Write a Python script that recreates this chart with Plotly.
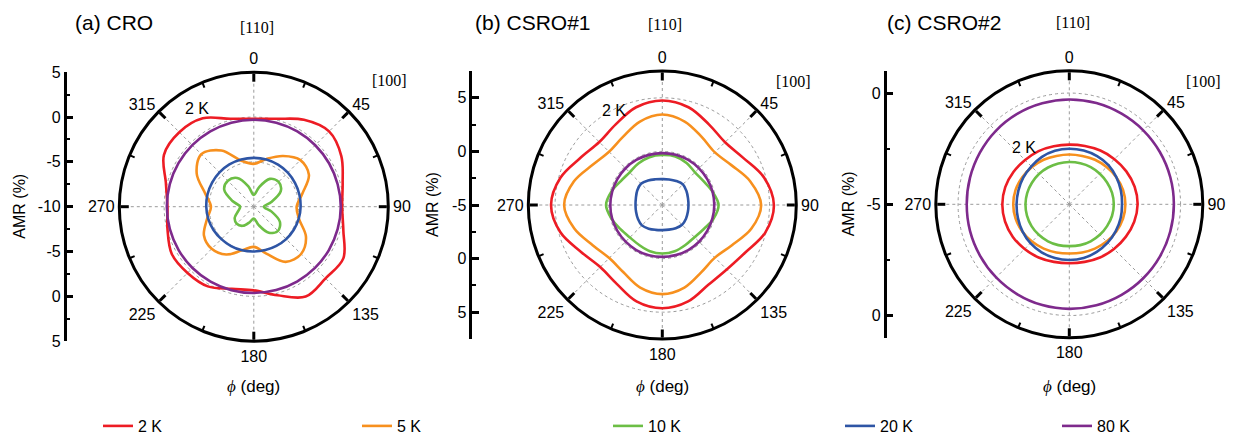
import plotly.graph_objects as go

W, H = 1235, 435

# ---------------- data ----------------
PHI = [0, 15, 30, 45, 60, 75, 90, 105, 120, 135, 150, 165,
       180, 195, 210, 225, 240, 255, 270, 285, 300, 315, 330, 345]
TEMPS = ["2 K", "5 K", "10 K", "20 K", "80 K"]
COLORS = ["#ED1C24", "#F7901E", "#6CBE45", "#2E55A5", "#7E2A8C"]

# (a) CRO  (AMR %, radial axis -10 .. 5)
CRO_2K = [-0.19, 0.15, 1.19, 1.87, 1.27, 0.26, -0.15, 0.34, 1.53, 1.31, 1.57, 0.22,
          -0.67, -0.52, 0.26, 0.45, 0.56, -0.04, -0.37, 0.15, 1.57, 1.75, 1.38, 0.15]
CRO_5K = [-5.22, -4.48, -3.47, -2.65, -2.90, -4.40, -5.22, -4.78, -3.28, -2.54, -2.90, -4.59,
          -5.52, -4.96, -3.84, -3.36, -3.58, -4.59, -5.22, -4.40, -2.65, -1.72, -2.76, -4.70]
CRO_10K = [-8.69, -7.76, -6.42, -6.08, -6.53, -7.98, -8.88, -7.98, -6.64, -6.19, -6.64, -7.87,
           -8.69, -8.21, -7.54, -7.31, -7.54, -8.21, -8.47, -7.54, -6.19, -5.91, -6.30, -7.65]
CRO_20K = [-4.55, -4.55, -4.59, -4.63, -4.70, -4.74, -4.78, -4.81, -4.85, -4.89, -4.96, -5.00,
           -5.00, -4.96, -4.93, -4.89, -4.81, -4.74, -4.70, -4.66, -4.63, -4.59, -4.55, -4.55]
CRO_80K = [-0.30, -0.30, -0.30, -0.31, -0.31, -0.32, -0.30, -0.32, -0.33, -0.35, -0.36, -0.37,
           -0.37, -0.36, -0.35, -0.33, -0.32, -0.31, -0.30, -0.30, -0.30, -0.30, -0.30, -0.30]

# (b) CSRO#1  (radial axis -5 .. 7.5)
S1_2K = [4.75, 4.44, 3.69, 3.28, 3.75, 4.84, 5.41, 4.94, 3.91, 3.50, 3.59, 4.31,
         4.63, 4.31, 3.50, 3.19, 3.75, 4.84, 5.38, 4.84, 3.81, 3.31, 3.69, 4.44]
S1_5K = [3.44, 3.06, 2.34, 1.94, 2.44, 3.50, 4.22, 3.59, 2.50, 1.94, 2.25, 2.97,
         3.31, 2.97, 2.25, 2.00, 2.50, 3.50, 4.16, 3.53, 2.50, 2.03, 2.34, 3.06]
S1_10K = [-0.34, -0.31, -0.47, -0.69, -0.56, -0.16, 0.25, -0.06, -0.53, -0.75, -0.69, -0.53,
          -0.47, -0.53, -0.69, -0.72, -0.50, -0.09, 0.25, -0.09, -0.53, -0.69, -0.53, -0.38]
S1_20K = [-2.59, -2.53, -2.41, -2.28, -2.40, -2.52, -2.56, -2.53, -2.45, -2.39, -2.50, -2.62,
          -2.66, -2.60, -2.45, -2.31, -2.38, -2.47, -2.50, -2.45, -2.30, -2.19, -2.35, -2.52]
S1_80K = [-0.16, -0.15, -0.15, -0.16, -0.16, -0.15, -0.15, -0.16, -0.16, -0.15, -0.15, -0.16,
          -0.16, -0.15, -0.15, -0.16, -0.16, -0.15, -0.15, -0.16, -0.16, -0.15, -0.15, -0.16]

# (c) CSRO#2  (radial axis -5 .. 1)
S2_2K = [-2.32, -2.29, -2.21, -2.13, -2.04, -1.96, -1.93, -1.98, -2.07, -2.16, -2.24, -2.32,
         -2.35, -2.32, -2.24, -2.16, -2.07, -2.01, -1.99, -2.02, -2.10, -2.19, -2.24, -2.30]
S2_5K = [-2.76, -2.75, -2.69, -2.63, -2.56, -2.50, -2.48, -2.50, -2.56, -2.63, -2.70, -2.76,
         -2.79, -2.76, -2.70, -2.63, -2.56, -2.50, -2.48, -2.50, -2.56, -2.63, -2.69, -2.75]
S2_10K = [-3.10, -3.09, -3.07, -3.06, -3.04, -3.01, -3.00, -3.01, -3.04, -3.06, -3.08, -3.10,
          -3.12, -3.10, -3.08, -3.06, -3.04, -3.03, -3.03, -3.04, -3.06, -3.07, -3.09, -3.10]
S2_20K = [-2.50, -2.50, -2.50, -2.51, -2.56, -2.60, -2.63, -2.61, -2.59, -2.56, -2.53, -2.50,
          -2.50, -2.50, -2.51, -2.53, -2.57, -2.61, -2.63, -2.63, -2.61, -2.59, -2.54, -2.51]
S2_80K = [-0.29, -0.29, -0.30, -0.30, -0.30, -0.30, -0.30, -0.30, -0.30, -0.30, -0.30, -0.30,
          -0.30, -0.31, -0.33, -0.35, -0.37, -0.38, -0.39, -0.38, -0.36, -0.33, -0.31, -0.30]

ANG_TICKS = [0, 45, 90, 135, 180, 225, 270, 315]
ANG_MINOR = [22.5, 67.5, 112.5, 157.5, 202.5, 247.5, 292.5, 337.5]

PANELS = [
    dict(title="(a) CRO", series=[CRO_2K, CRO_5K, CRO_10K, CRO_20K, CRO_80K],
         rrange=[-10, 5], rgrid=[-5, 0],
         left_vals=[-15, -10, -5, 0, 5, 10, 15],
         left_text=["5", "0", "-5", "-10", "-5", "0", "5"]),
    dict(title="(b) CSRO#1", series=[S1_2K, S1_5K, S1_10K, S1_20K, S1_80K],
         rrange=[-5, 7.5], rgrid=[0, 5],
         left_vals=[-10, -5, 0, 5, 10],
         left_text=["5", "0", "-5", "0", "5"]),
    dict(title="(c) CSRO#2", series=[S2_2K, S2_5K, S2_10K, S2_20K, S2_80K],
         rrange=[-5, 1], rgrid=[0],
         left_vals=[-5, 0, 5],
         left_text=["0", "-5", "0"]),
]

# ---------------- layout geometry (pixels) ----------------
CENTERS = [(253.8, 206.7), (662.3, 205.0), (1069.3, 204.3)]
RADII = [134.5, 134.0, 133.5]
LEFT_AXIS_X = [66.7, 472.3, 886.7]
AMR_X = [20, 432, 848]
TITLE_X = [73, 473, 885]
LABEL_2K = [(197, 108), (614, 110), (1024, 147)]
L110 = [(257, 27), (665, 24), (1073, 23)]
L100 = [(389, 80), (793, 82), (1203, 82)]
LEGEND_X = [98, 357, 608, 840, 1057]

FONT = "Arial, Liberation Sans, sans-serif"
SERIF = "Times New Roman, Liberation Serif, serif"


def px(x):
    return x / W


def py(y):
    return 1 - y / H


fig = go.Figure()
layout = dict(
    width=W, height=H, margin=dict(l=0, r=0, t=0, b=0, pad=0, autoexpand=False),
    paper_bgcolor="white", plot_bgcolor="white",
    font=dict(family=FONT, size=16, color="black"),
    showlegend=True,
)
annotations = []

for i, p in enumerate(PANELS):
    cx, cy = CENTERS[i]
    R = RADII[i]
    xd = [px(cx - R), px(cx + R)]
    yd = [py(cy + R), py(cy - R)]
    main = "polar" if i == 0 else f"polar{2 * i + 1}"
    minor = f"polar{2 * i + 2}"

    for k, (name, col) in enumerate(zip(TEMPS, COLORS)):
        vals = p["series"][k]
        fig.add_trace(go.Scatterpolar(
            r=vals + vals[:1], theta=PHI + PHI[:1], mode="lines",
            line=dict(color=col, width=2.6, shape="spline", smoothing=1.0),
            name=name, subplot=main, showlegend=(i == 0),
            legend="legend" if k == 0 else f"legend{k + 1}",
            hoverinfo="skip"))

    # empty trace so the minor-tick overlay polar is drawn
    fig.add_trace(go.Scatterpolar(r=[], theta=[], subplot=minor,
                                  showlegend=False, hoverinfo="skip"))

    grid = dict(gridcolor="#9a9a9a", griddash="dot", gridwidth=1)
    layout[main] = dict(
        domain=dict(x=xd, y=yd), bgcolor="white",
        radialaxis=dict(range=p["rrange"], tickvals=p["rgrid"], showticklabels=False,
                        ticks="", showline=False, **grid),
        angularaxis=dict(rotation=90, direction="clockwise", tickmode="array",
                         tickvals=ANG_TICKS, ticktext=[str(t) for t in ANG_TICKS],
                         showline=True, linecolor="black", linewidth=3,
                         ticks="inside", ticklen=8, tickwidth=2.5, tickcolor="black",
                         tickfont=dict(size=16, family=FONT, color="black"), **grid),
    )
    layout[minor] = dict(
        domain=dict(x=xd, y=yd), bgcolor="rgba(0,0,0,0)",
        radialaxis=dict(visible=False, range=p["rrange"]),
        angularaxis=dict(rotation=90, direction="clockwise", tickmode="array",
                         tickvals=ANG_MINOR, showticklabels=False, showgrid=False,
                         showline=False, ticks="inside", ticklen=5, tickwidth=2,
                         tickcolor="black"),
    )

    # left AMR scale
    xa = "x" if i == 0 else f"x{i + 1}"
    ya = "y" if i == 0 else f"y{i + 1}"
    xk = "xaxis" if i == 0 else f"xaxis{i + 1}"
    yk = "yaxis" if i == 0 else f"yaxis{i + 1}"
    half = p["rrange"][1] - p["rrange"][0]
    fig.add_trace(go.Scatter(x=[], y=[], xaxis=xa, yaxis=ya, showlegend=False,
                             hoverinfo="skip"))
    layout[xk] = dict(domain=[px(LEFT_AXIS_X[i]), px(LEFT_AXIS_X[i] + 4)],
                      visible=False, range=[0, 1], anchor=ya)
    layout[yk] = dict(domain=yd, range=[-half, half], anchor=xa, side="left",
                      showline=True, linecolor="black", linewidth=2.5,
                      tickmode="array", tickvals=p["left_vals"], ticktext=p["left_text"],
                      ticks="inside", ticklen=7, tickwidth=2.5, tickcolor="black",
                      minor=dict(ticks="inside", ticklen=4, tickwidth=2, dtick=2.5,
                                 tick0=0, tickcolor="black", showgrid=False),
                      showgrid=False, zeroline=False, automargin=False,
                      tickfont=dict(size=16, family=FONT, color="black"))

    annotations += [
        dict(text=p["title"], x=px(TITLE_X[i]), y=py(23), xanchor="left", yanchor="middle",
             font=dict(size=21, family=FONT)),
        dict(text="AMR (%)", x=px(AMR_X[i]), y=py(cy), textangle=-90,
             xanchor="center", yanchor="middle", font=dict(size=16, family=FONT)),
        dict(text="<span style='font-family:\"Times New Roman\",\"Liberation Serif\",serif'>"
                  "<i>ϕ</i></span> (deg)",
             x=px(cx), y=py(386), xanchor="center", yanchor="middle",
             font=dict(size=17, family=FONT)),
        dict(text="[110]", x=px(L110[i][0]), y=py(L110[i][1]), xanchor="center",
             yanchor="middle", font=dict(size=16, family=SERIF)),
        dict(text="[100]", x=px(L100[i][0]), y=py(L100[i][1]), xanchor="center",
             yanchor="middle", font=dict(size=16, family=SERIF)),
        dict(text="2 K", x=px(LABEL_2K[i][0]), y=py(LABEL_2K[i][1]), xanchor="center",
             yanchor="middle", font=dict(size=16, family=FONT)),
    ]

for k in range(5):
    key = "legend" if k == 0 else f"legend{k + 1}"
    layout[key] = dict(x=px(LEGEND_X[k]), y=py(426), xanchor="left", yanchor="middle",
                       orientation="h", bgcolor="rgba(0,0,0,0)", borderwidth=0,
                       font=dict(size=16, family=FONT, color="black"))

layout["annotations"] = [dict(a, showarrow=False, xref="paper", yref="paper")
                         for a in annotations]
fig.update_layout(**layout)
fig.write_html("out.html", config={"displayModeBar": False},
               post_script="document.body.style.margin='0px';")
